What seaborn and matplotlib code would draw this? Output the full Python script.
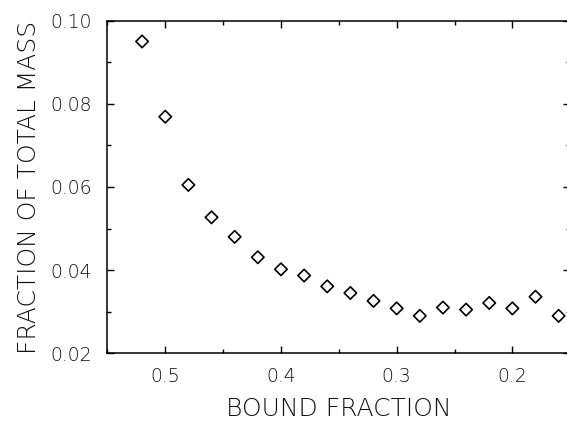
import matplotlib
matplotlib.use("Agg")
import matplotlib.pyplot as plt
import seaborn as sns
import pandas as pd
from matplotlib.ticker import MultipleLocator, FormatStrFormatter

# Bound fraction (x) and fraction of total mass (y)
bound_fraction = [0.52, 0.50, 0.48, 0.46, 0.44, 0.42, 0.40, 0.38, 0.36, 0.34,
                  0.32, 0.30, 0.28, 0.26, 0.24, 0.22, 0.20, 0.18, 0.16]
mass_fraction = [0.0950, 0.0769, 0.0605, 0.0527, 0.0480, 0.0431, 0.0402, 0.0387,
                 0.0361, 0.0345, 0.0326, 0.0308, 0.0290, 0.0310, 0.0305, 0.0321,
                 0.0308, 0.0336, 0.0290]

x_ticks = [0.5, 0.4, 0.3, 0.2]
x_tick_labels = ["0.5", "0.4", "0.3", "0.2"]
y_ticks = [0.02, 0.04, 0.06, 0.08, 0.10]

df = pd.DataFrame({"bound": bound_fraction, "mass": mass_fraction})

sns.set_theme(style="ticks")
plt.rcParams["font.family"] = ["DejaVu Sans"]
plt.rcParams["font.weight"] = 200

fig = plt.figure(figsize=(5.67, 4.26), dpi=100)
ax = fig.add_axes([0.1894, 0.1707, 0.8163, 0.7808])

sns.scatterplot(data=df, x="bound", y="mass", ax=ax, marker="D", s=40,
                facecolor="none", edgecolor="black", linewidth=1.2)

ax.set_xlim(0.55, 0.15)
ax.set_ylim(0.02, 0.10)

ax.set_xticks(x_ticks)
ax.set_xticklabels(x_tick_labels)
ax.xaxis.set_minor_locator(MultipleLocator(0.05))
ax.set_yticks(y_ticks)
ax.yaxis.set_major_formatter(FormatStrFormatter("%.2f"))
ax.yaxis.set_minor_locator(MultipleLocator(0.01))

ax.tick_params(which="both", direction="in", top=True, right=True,
               color="black", width=1.0)
ax.tick_params(which="major", length=5)
ax.tick_params(which="minor", length=3)
ax.tick_params(axis="x", which="major", pad=10, labelsize=13.5,
               labelcolor="#111111")
ax.tick_params(axis="y", which="major", pad=11, labelsize=13.5,
               labelcolor="#111111")

for side in ["left", "right", "top", "bottom"]:
    ax.spines[side].set_visible(True)
    ax.spines[side].set_color("black")
    ax.spines[side].set_linewidth(1.1)

ax.set_xlabel("BOUND FRACTION", fontsize=18, fontweight=200,
              color="#111111", labelpad=8)
ax.set_ylabel("FRACTION OF TOTAL MASS", fontsize=18, fontweight=200,
              color="#111111", labelpad=7)

fig.savefig("out.png", dpi=100)
